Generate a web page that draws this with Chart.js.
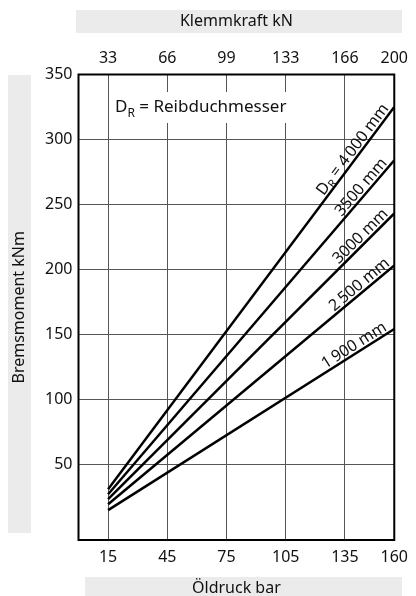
<!DOCTYPE html>
<html>
<head>
<meta charset="utf-8">
<script src="https://cdn.jsdelivr.net/npm/chart.js@4.4.1/dist/chart.umd.min.js"></script>
<style>
  html, body { margin: 0; padding: 0; background: #fff; }
  canvas { display: block; }
</style>
</head>
<body>
<canvas id="brakeChart" width="416" height="596"></canvas>
<script>
// Öldruck (bar) at the two ends of each line
const pressure = [15, 160];

// Bremsmoment (kNm) for each Reibdurchmesser
const torque4000 = [30.5, 325];
const torque3500 = [26.7, 284];
const torque3000 = [22.9, 243];
const torque2500 = [19, 203];
const torque1900 = [14.5, 154];

const diameterLabels = ['4\u2009000 mm', '3500 mm', '3000 mm', '2\u2009500 mm', '1\u2009900 mm'];

// tick labels
const pressureTicks = [15, 45, 75, 105, 135, 160];
const clampForceTicks = ['33', '66', '99', '133', '166', '200'];
const torqueTicks = [50, 100, 150, 200, 250, 300, 350];

const FONT = '"Noto Sans", sans-serif';

// where the rotated label text starts along each line (bar)
const labelStart = [125.5, 134.5, 133, 130.5, 126];

function toPoints(xs, ys) {
    return xs.map((x, i) => ({ x: x, y: ys[i] }));
}

const series = [torque4000, torque3500, torque3000, torque2500, torque1900];

// grey title bands behind the axis titles
const bandsPlugin = {
    id: 'bands',
    beforeDraw(chart) {
        const ctx = chart.ctx;
        ctx.save();
        ctx.fillStyle = '#ebebeb';
        ctx.fillRect(76, 10, 326, 23);
        ctx.fillRect(85, 577, 317, 19);
        ctx.fillRect(8, 75, 23, 458);
        ctx.restore();
    }
};

// frame, legend box and the labels written along the lines
const annotatePlugin = {
    id: 'annotate',
    afterDatasetsDraw(chart) {
        const ctx = chart.ctx;
        const area = chart.chartArea;
        const xs = chart.scales.x;
        const ys = chart.scales.y;

        ctx.save();
        ctx.strokeStyle = '#000';
        ctx.lineWidth = 2;
        ctx.strokeRect(area.left, area.top, area.right - area.left, area.bottom - area.top);

        // legend text inside the plot
        ctx.fillStyle = '#fff';
        ctx.fillRect(112, 92, 180, 31);
        ctx.fillStyle = '#111';
        ctx.textBaseline = 'alphabetic';
        ctx.font = '17px ' + FONT;
        let x = 115;
        ctx.fillText('D', x, 112);
        x += ctx.measureText('D').width;
        ctx.font = '12px ' + FONT;
        ctx.fillText('R', x, 117);
        x += ctx.measureText('R').width;
        ctx.font = '17px ' + FONT;
        ctx.fillText(' = Reibduchmesser', x, 112);

        // labels along the lines
        series.forEach((vals, i) => {
            const x0 = xs.getPixelForValue(pressure[0]);
            const y0 = ys.getPixelForValue(vals[0]);
            const x1 = xs.getPixelForValue(pressure[1]);
            const y1 = ys.getPixelForValue(vals[1]);
            const ang = Math.atan2(y1 - y0, x1 - x0);
            const px = xs.getPixelForValue(labelStart[i]);
            const py = y0 + (px - x0) * (y1 - y0) / (x1 - x0);

            ctx.save();
            ctx.translate(px, py);
            ctx.rotate(ang);
            ctx.translate(0, -3);
            ctx.fillStyle = '#111';
            ctx.textBaseline = 'alphabetic';
            let tx = 0;
            if (i === 0) {
                ctx.font = '16px ' + FONT;
                ctx.fillText('D', tx, 0);
                tx += ctx.measureText('D').width;
                ctx.font = '11px ' + FONT;
                ctx.fillText('R', tx, 3);
                tx += ctx.measureText('R').width;
                ctx.font = '16px ' + FONT;
                ctx.fillText(' = ', tx, 0);
                tx += ctx.measureText(' = ').width;
            }
            ctx.font = '16px ' + FONT;
            ctx.fillText(diameterLabels[i], tx, 0);
            ctx.restore();
        });
        ctx.restore();
    }
};

const ctx = document.getElementById('brakeChart').getContext('2d');

const brakeChart = new Chart(ctx, {
    type: 'line',
    data: {
        datasets: series.map((vals, i) => ({
            label: diameterLabels[i],
            data: toPoints(pressure, vals),
            borderColor: '#000',
            borderWidth: 2.5,
            pointRadius: 0,
            fill: false,
            tension: 0
        }))
    },
    options: {
        responsive: false,
        animation: false,
        devicePixelRatio: 1,
        layout: { padding: { left: 0, right: 15, top: 0, bottom: 0 } },
        plugins: {
            legend: { display: false },
            tooltip: { enabled: false }
        },
        scales: {
            x: {
                type: 'linear',
                position: 'bottom',
                min: 0,
                max: 160,
                afterBuildTicks: (axis) => { axis.ticks = pressureTicks.map(v => ({ value: v })); },
                afterFit: (axis) => { axis.height = 56; },
                ticks: {
                    color: '#111',
                    font: { family: FONT, size: 16 },
                    padding: 8,
                    maxRotation: 0,
                    autoSkip: false
                },
                grid: { color: '#555', lineWidth: 1, drawTicks: false },
                border: { display: false },
                title: {
                    display: true,
                    text: 'Öldruck bar',
                    color: '#111',
                    font: { family: FONT, size: 16 },
                    padding: { top: 0, bottom: -2 }
                }
            },
            x2: {
                type: 'linear',
                position: 'top',
                min: 0,
                max: 160,
                afterBuildTicks: (axis) => { axis.ticks = pressureTicks.map(v => ({ value: v })); },
                afterFit: (axis) => { axis.height = 74.5; },
                ticks: {
                    color: '#111',
                    font: { family: FONT, size: 16 },
                    padding: 6,
                    maxRotation: 0,
                    autoSkip: false,
                    callback: (v, i) => clampForceTicks[i]
                },
                grid: { display: false, drawTicks: false },
                border: { display: false },
                title: {
                    display: true,
                    text: 'Klemmkraft kN',
                    color: '#111',
                    font: { family: FONT, size: 16 },
                    padding: { top: 12, bottom: 0 }
                }
            },
            y: {
                type: 'linear',
                min: -8.5,
                max: 350,
                afterBuildTicks: (axis) => { axis.ticks = torqueTicks.map(v => ({ value: v })); },
                afterFit: (axis) => { axis.width = 78.5; },
                ticks: {
                    color: '#111',
                    font: { family: FONT, size: 16 },
                    padding: 6
                },
                grid: { color: '#555', lineWidth: 1, drawTicks: false },
                border: { display: false },
                title: {
                    display: true,
                    text: 'Bremsmoment kNm',
                    color: '#111',
                    font: { family: FONT, size: 16 },
                    padding: { top: 10, bottom: 0 }
                }
            }
        }
    },
    plugins: [bandsPlugin, annotatePlugin]
});
</script>
</body>
</html>
